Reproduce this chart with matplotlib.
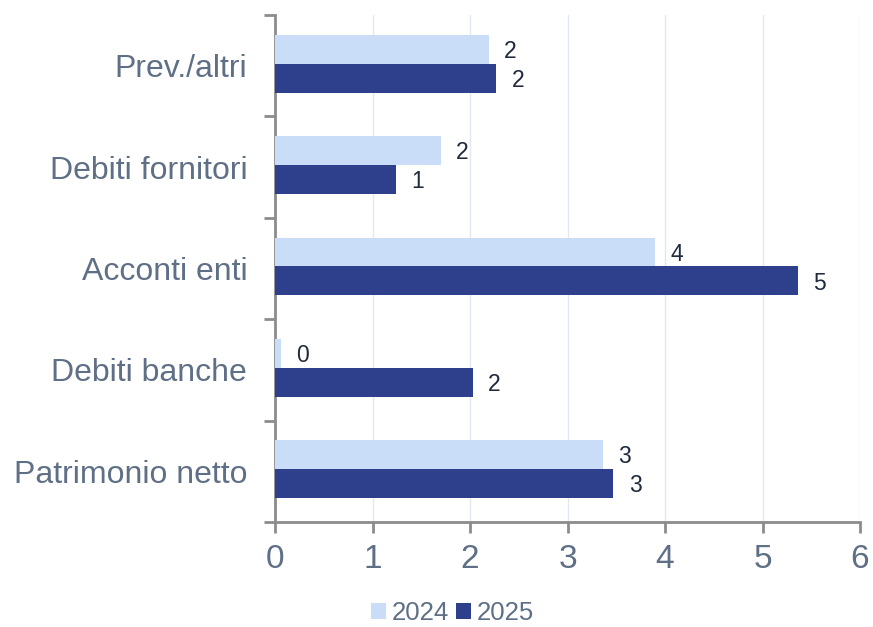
import matplotlib
matplotlib.use("Agg")
import matplotlib.pyplot as plt
import numpy as np

categories = ["Prev./altri", "Debiti fornitori", "Acconti enti", "Debiti banche", "Patrimonio netto"]
series_names = ["2024", "2025"]
values_2024 = [2.19, 1.70, 3.90, 0.06, 3.36]
values_2025 = [2.27, 1.24, 5.36, 2.03, 3.47]
x_ticks = [0, 1, 2, 3, 4, 5, 6]

plt.rcParams['font.family'] = ['Liberation Sans', 'DejaVu Sans']

c24 = "#c9dcf8"
c25 = "#2e3f8c"
grey_txt = "#5f6f86"
axis_col = "#8c8c8c"

fig = plt.figure(figsize=(8.73, 6.27), dpi=100)
ax = fig.add_axes([275/873, 1-522/627, (860-275)/873, (522-15)/627])

n = len(categories)
pos = np.arange(n)[::-1]  # top to bottom
h = 0.285
off = 0.02
b1 = ax.barh(pos + h/2 + off, values_2024, height=h, color=c24, label=series_names[0], zorder=3)
b2 = ax.barh(pos - h/2 + off, values_2025, height=h, color=c25, label=series_names[1], zorder=3)

for bars, vals in ((b1, values_2024), (b2, values_2025)):
    for rect, v in zip(bars, vals):
        ax.annotate(f"{v:.0f}", (v, rect.get_y() + rect.get_height()/2),
                    xytext=(11, -1.5), textcoords="offset points",
                    ha="left", va="center", fontsize=16.5, color="#1f2a3c")

ax.set_xlim(0, 6)
ax.set_ylim(-0.5, n - 0.5)
ax.set_xticks(x_ticks)
ax.set_xticklabels([str(t) for t in x_ticks], fontsize=24, color=grey_txt)
ax.tick_params(axis='x', length=8, width=2, color=axis_col, pad=8, direction='out')

ax.set_yticks(pos)
ax.set_yticklabels(categories, fontsize=23, color=grey_txt)
ax.tick_params(axis='y', which='major', length=0, pad=20)
ax.set_yticks(np.arange(n + 1) - 0.5, minor=True)
ax.tick_params(axis='y', which='minor', length=8, width=2, color=axis_col, direction='out')

ax.grid(axis='x', color="#e3e8f0", linewidth=1, zorder=0)
for s in ("top", "right"):
    ax.spines[s].set_visible(False)
for s in ("left", "bottom"):
    ax.spines[s].set_color(axis_col)
    ax.spines[s].set_linewidth(2)

leg = fig.legend(handles=[b1, b2], labels=series_names, loc="center", bbox_to_anchor=(0.518, 0.022),
                 ncol=2, frameon=False, fontsize=18.5, handlelength=0.58, handleheight=0.58,
                 handletextpad=0.22, columnspacing=0.28)
for t in leg.get_texts():
    t.set_color(grey_txt)

fig.savefig("out.png", dpi=100)
